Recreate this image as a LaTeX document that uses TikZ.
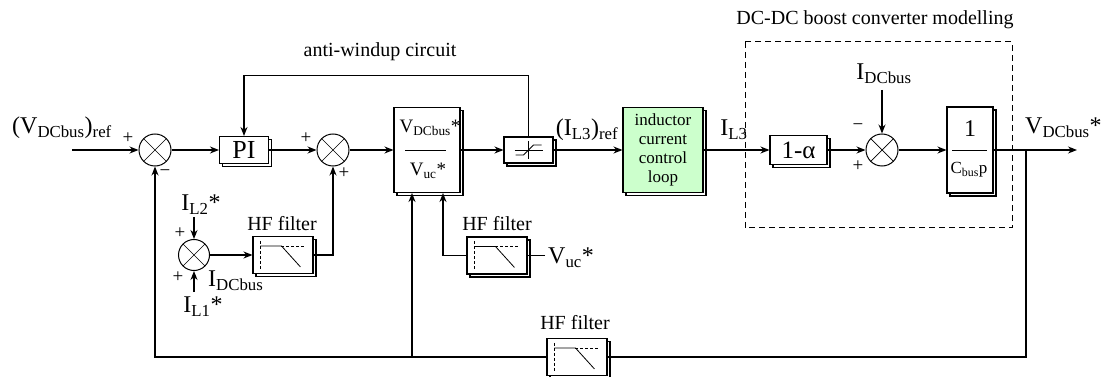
\documentclass[tikz,border=0pt]{standalone}
\usepackage{fontspec}
\setmainfont{Liberation Serif}
\usetikzlibrary{arrows.meta,shadows,calc}
\definecolor{indgreen}{RGB}{204,255,204}
\newcommand\hficon[1]{\begin{scope}[shift={(#1.north west)}]
 \draw[icod] (8,5) -- (8,33);
 \draw[ico] (8,10) -- (29,10) -- (48,31);
 \draw[icod] (29,10) -- (52,10);
\end{scope}}
\begin{document}
\begin{tikzpicture}[x=1pt,y=-1pt,
  lw/.style={line width=1.1pt},
  sig/.style={lw, -{Stealth[length=9pt,width=7pt]}},
  blk/.style={draw, lw, fill=white, inner sep=0pt,
     copy shadow={shadow xshift=3pt,shadow yshift=-3pt,fill=white,draw=black}},
  sumj/.style={circle, draw, line width=1pt, fill=white, minimum size=32pt, inner sep=0pt,
     path picture={\draw[line width=0.7pt]
        (path picture bounding box.north west) -- (path picture bounding box.south east)
        (path picture bounding box.north east) -- (path picture bounding box.south west);}},
  lbl/.style={inner sep=0pt, font=\fontsize{24}{26}\selectfont},
  note/.style={inner sep=0pt, font=\fontsize{20}{22}\selectfont},
  sgn/.style={inner sep=0pt, font=\fontsize{19}{19}\selectfont},
  ico/.style={line width=0.8pt},
  icod/.style={line width=0.8pt, dash pattern=on 3pt off 2pt},
]
\fill[white] (0,0) rectangle (1104,377);
\useasboundingbox (0,0) rectangle (1104,377);

% dashed frame
\draw[line width=1pt, dash pattern=on 6pt off 4pt] (745,42) rectangle (1012,228);
\node[note] (dctitle) at (875,20) {DC-DC boost converter modelling};
\node[note] (awtitle) at (380,52) {anti-windup circuit};

% summing junctions
\node[sumj] (s1) at (155,150) {};
\node[sumj] (s2) at (333,150) {};
\node[sumj] (s3) at (882,150) {};
\node[sumj, minimum size=31pt] (s4) at (194,255) {};

% blocks
\node[blk, minimum width=49pt, minimum height=27pt, font=\fontsize{26}{28}\selectfont] (PI) at (244,150) {PI};
\node[blk, minimum width=66pt, minimum height=85pt] (div) at (427,150) {};
\node[inner sep=0pt, font=\fontsize{19}{20}\selectfont] (divn) at (430,128) {V\textsubscript{DCbus}*};
\node[inner sep=0pt, font=\fontsize{19}{20}\selectfont] (divd) at (428,171) {V\textsubscript{uc}*};
\draw[line width=0.9pt] ($(div.center)+(-22,0)$) -- ($(div.center)+(19,0)$);
\node[blk, minimum width=49pt, minimum height=26pt] (sat) at (528.5,150) {};
\begin{scope}[shift={(sat.center)}]
 \draw[ico] (-14,0) -- (14,0);
 \draw[ico] (0,-9) -- (0,9);
 \draw[ico] (-13,5) -- (-5,5) -- (5,-5) -- (13,-5);
\end{scope}
\node[blk, fill=indgreen, minimum width=80pt, minimum height=85pt, align=center,
      font=\fontsize{17}{19}\selectfont] (ind) at (663,150) {inductor\\current\\control\\loop};
\node[blk, minimum width=57pt, minimum height=29pt, font=\fontsize{25}{27}\selectfont] (oma) at (798.5,150) {1-α};
\node[blk, minimum width=46pt, minimum height=86pt] (cp) at (970,150) {};
\node[inner sep=0pt, font=\fontsize{24}{26}\selectfont] (cpn) at (970,129) {1};
\draw[line width=0.9pt] ($(cp.center)+(-18,0)$) -- ($(cp.center)+(17,0)$);
\node[inner sep=0pt, font=\fontsize{17}{18}\selectfont] (cpd) at (969,170) {C\textsubscript{bus}p};

% filters
\node[blk, minimum width=60pt, minimum height=37pt] (fL) at (283,255) {};
\hficon{fL}
\node[blk, minimum width=60pt, minimum height=37pt] (fM) at (497,255.5) {};
\hficon{fM}
\node[blk, minimum width=60pt, minimum height=37pt] (fB) at (577,357) {};
\hficon{fB}
\node[note] (fLt) at (282,224) {HF filter};
\node[note] (fMt) at (497,224) {HF filter};
\node[note] (fBt) at (575,323) {HF filter};

% coordinates
\coordinate (in) at (72,150);
\coordinate (out) at (1077,150);
\coordinate (br) at (1026,150);
\coordinate (j1) at (412,357);
\coordinate (vuc) at (545,255.5);
\coordinate (il2) at (194,217);
\coordinate (il1) at (194,292);
\coordinate (idc) at (882,90);

% main path
\draw[sig] (in) -- (s1);
\draw[sig] (s1) -- (PI);
\draw[sig] (PI) -- (s2);
\draw[sig] (s2) -- (div);
\draw[sig] (div) -- (sat);
\draw[sig] (sat) -- (ind);
\draw[sig] (ind) -- (oma);
\draw[sig] (oma) -- (s3);
\draw[sig] (s3) -- (cp);
\draw[sig] (cp) -- (out);
% anti-windup
\draw[sig] (sat.north) -- ++(0,-61) -| (PI.north);
% feedback
\draw[lw] (br) |- (fB.east);
\draw[sig] (fB.west) -| (s1.south);
\draw[sig] (j1) -- (j1 |- div.south);
% Vuc filter
\draw[lw] (vuc) -- (fM.east);
\draw[sig] (fM.west) -| ($(div.south)+(16,0)$);
% current sum
\draw[sig] (s4) -- (fL);
\draw[sig] (fL.east) -| (s2.south);
\draw[sig] (il2) -- (s4.north);
\draw[sig] (il1) -- (s4.south);
\draw[sig] (idc) -- (s3.north);

% labels
\node[lbl] (vref) at (62,128) {(V\textsubscript{DCbus})\textsubscript{ref}};
\node[lbl] (il3ref) at (587,130) {(I\textsubscript{L3})\textsubscript{ref}};
\node[lbl] (il3) at (734,130) {I\textsubscript{L3}};
\node[lbl, anchor=west] (vout) at (1025,128) {V\textsubscript{DCbus}*};
\node[lbl] (idct) at (884,74) {I\textsubscript{DCbus}};
\node[lbl] (il2t) at (201,205) {I\textsubscript{L2}*};
\node[lbl] (il1t) at (203,307) {I\textsubscript{L1}*};
\node[lbl, anchor=west] (idcl) at (208,281) {I\textsubscript{DCbus}};
\node[lbl, anchor=west] (vuct) at (548,258) {V\textsubscript{uc}*};

% signs
\node[sgn] at (128,138) {+};
\node[sgn] at (165,173) {−};
\node[sgn] at (306,138) {+};
\node[sgn] at (344,173) {+};
\node[sgn] at (858,127) {−};
\node[sgn] at (858,166) {+};
\node[sgn] at (180,233) {+};
\node[sgn] at (178,277) {+};
\end{tikzpicture}
\end{document}
